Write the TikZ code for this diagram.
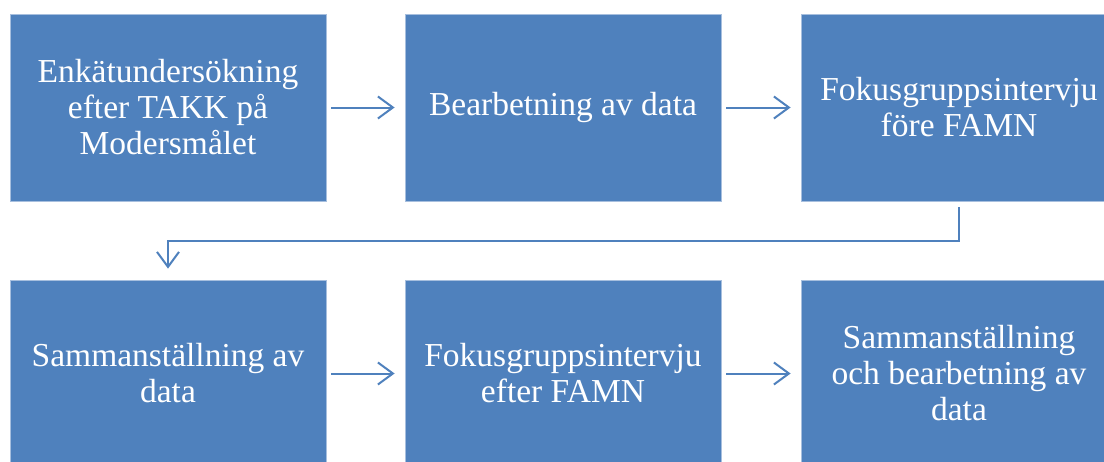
\documentclass[tikz,border=0pt]{standalone}
\usepackage{fontspec}
\setmainfont{Liberation Serif}
\usetikzlibrary{arrows.meta}
\definecolor{boxblue}{HTML}{4F81BD}
\definecolor{boxedge}{HTML}{A7BFDE}
\tikzset{
  stepbox/.style={fill=boxblue, draw=boxedge, line width=0.8pt, minimum width=316pt,
    minimum height=187pt, inner sep=0pt, text=white, align=center,
    font=\fontsize{33.5}{36}\selectfont},
  flow/.style={draw=boxblue, line width=2pt,
    -{Straight Barb[length=15pt, width=22pt, line width=2pt]}}
}
\begin{document}
\begin{tikzpicture}[x=1pt, y=-1pt]
  \useasboundingbox (0,0) rectangle (1104,461);
  \clip (0,0) rectangle (1104,461);
  \fill[white] (0,0) rectangle (1104,461);
  % top row
  \node[stepbox] (b1) at (168,107.5) {Enkätundersökning\\efter TAKK på\\Modersmålet};
  \node[stepbox] (b2) at (563,107.5) {Bearbetning av data};
  \node[stepbox] (b3) at (959,107.5) {Fokusgruppsintervju\\före FAMN};
  % bottom row
  \node[stepbox] (b4) at (168,373.5) {Sammanställning av\\data};
  \node[stepbox] (b5) at (563,373.5) {Fokusgruppsintervju\\efter FAMN};
  \node[stepbox] (b6) at (959,373.5) {Sammanställning\\och bearbetning av\\data};
  % connectors
  \draw[flow] ([xshift=5pt]b1.east) -- ([xshift=-10pt]b2.west);
  \draw[flow] ([xshift=5pt]b2.east) -- ([xshift=-10pt]b3.west);
  \draw[flow] ([yshift=-6pt]b3.south) -- ++(0,34) coordinate (turn)
    -| ([yshift=11pt]b4.north);
  \draw[flow] ([xshift=5pt]b4.east) -- ([xshift=-10pt]b5.west);
  \draw[flow] ([xshift=5pt]b5.east) -- ([xshift=-10pt]b6.west);
\end{tikzpicture}
\end{document}
